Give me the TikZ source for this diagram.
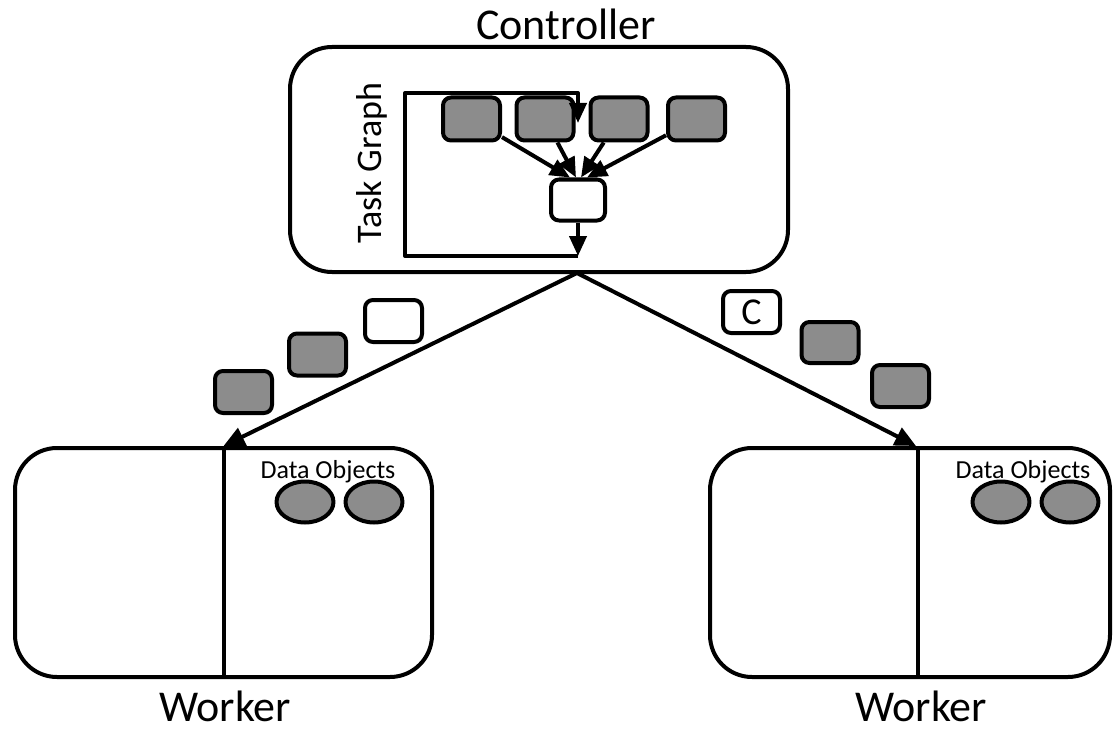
\documentclass[tikz,border=0pt]{standalone}
\usepackage{fontspec}
\setmainfont{Carlito}
\usetikzlibrary{arrows.meta,shapes.geometric}
\definecolor{taskgray}{RGB}{140,140,140}
\begin{document}
\begin{tikzpicture}[x=1pt,y=-1pt,line width=4pt,line join=round,
  task/.style={draw,rounded corners=8pt,fill=taskgray,minimum width=57pt,minimum height=43pt,inner sep=0pt},
  freetask/.style={task,fill=white},
  dataobj/.style={draw,ellipse,fill=taskgray,minimum width=57pt,minimum height=41pt,inner sep=0pt},
  panel/.style={draw,rounded corners=42pt,inner sep=0pt},
  flow/.style={-{Triangle[length=21pt,width=19pt]}},
  edge/.style={-{Triangle[length=20pt,width=17pt]}},
  bigtext/.style={font=\fontsize{44}{50}\selectfont,inner sep=0pt,anchor=base},
  smalltext/.style={font=\fontsize{26}{29}\selectfont,inner sep=0pt,anchor=base}
]
\useasboundingbox (0,0) rectangle (1114,733);

% controller
\node[panel,minimum width=498pt,minimum height=225pt] (ctrl) at (539,159.5) {};
\node[bigtext] (ctrllabel) at (566,40) {Controller};
\node[font=\fontsize{36}{40}\selectfont,inner sep=0pt,anchor=base,rotate=90] (tglabel) at (381,163) {Task Graph};

% task graph
\node[task] (t1) at (471.5,119) {};
\node[task] (t2) at (545,119) {};
\node[task] (t3) at (619,119) {};
\node[task] (t4) at (696.5,119) {};
\node[freetask,minimum width=54pt,minimum height=41pt] (wb) at (578,200) {};
\coordinate (loopin) at (578,123);
\coordinate (loopout) at (578,256);
\coordinate (loopbl) at (405,256);
\coordinate (looptl) at (405,93);
\coordinate (looptr) at (578,93);

\draw[edge] (t1) -- ([xshift=-8pt]wb.north);
\draw[edge] (t2) -- ([xshift=-2pt]wb.north);
\draw[edge] (t3) -- ([xshift=3pt]wb.north);
\draw[edge] (t4) -- ([xshift=9pt]wb.north);
\draw[edge] (wb.south) -- (loopout);
\draw[edge] (loopout) -- (loopbl) -- (looptl) -- (looptr) -- (loopin);

% workers
\node[panel,minimum width=417pt,minimum height=229pt] (wl) at (223.5,562.5) {};
\node[panel,minimum width=400pt,minimum height=229pt] (wr) at (910,562.5) {};
\draw (wl.north) -- (wl.south);
\draw ([xshift=8pt]wr.north) -- ([xshift=8pt]wr.south);
\node[bigtext] (wllabel) at (225,721) {Worker};
\node[bigtext] (wrlabel) at (921,721) {Worker};

\node[smalltext] (dl) at (328,478) {Data Objects};
\node[smalltext] (dr) at (1023,478) {Data Objects};
\node[dataobj] (ol1) at (305,502) {};
\node[dataobj] (ol2) at (374,502) {};
\node[dataobj] (or1) at (1001,502) {};
\node[dataobj] (or2) at (1070,502) {};

% dispatch
\coordinate (fork) at (577,273);
\draw[flow] (fork) -- (wl.north);
\draw[flow] (fork) -- ([xshift=6pt]wr.north);

% tasks in flight
\node[freetask,minimum height=42pt] (fl3) at (393.5,321) {};
\node[task,minimum height=42pt] (fl2) at (317.5,354.5) {};
\node[task,minimum height=42pt] (fl1) at (243.5,392) {};
\node[freetask,minimum height=42pt,font=\fontsize{38}{42}\selectfont] (fr1) at (751.5,312) {C};
\node[task,minimum height=41pt] (fr2) at (830,342.5) {};
\node[task,minimum height=42pt] (fr3) at (900.5,386) {};
\end{tikzpicture}
\end{document}
